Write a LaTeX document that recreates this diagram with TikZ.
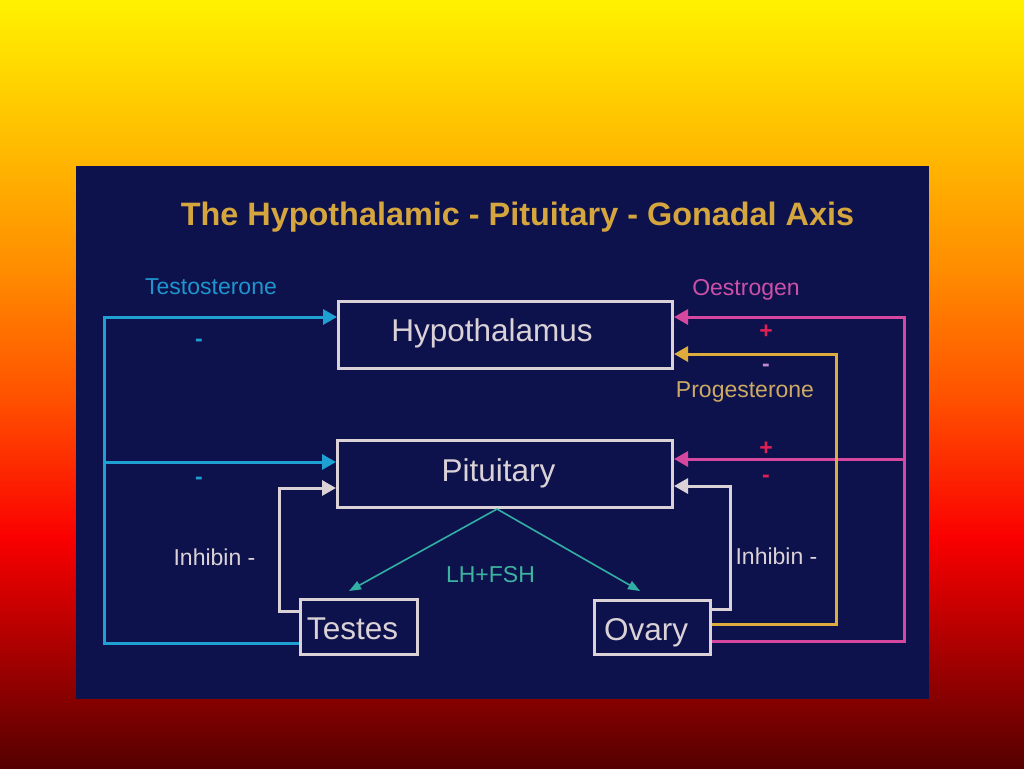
\documentclass[tikz,border=0pt]{standalone}
\usepackage{fontspec}
\setmainfont{Liberation Sans}
\usetikzlibrary{arrows.meta}
\definecolor{bgE}{RGB}{255,242,0}
\definecolor{bgD}{RGB}{255,140,0}
\definecolor{bgC}{RGB}{255,80,0}
\definecolor{bgB}{RGB}{250,0,0}
\definecolor{bgA}{RGB}{85,0,0}
\definecolor{panel}{RGB}{14,18,76}
\definecolor{titlegold}{RGB}{214,166,62}
\definecolor{boxgrey}{RGB}{218,210,214}
\definecolor{cyanc}{RGB}{30,160,210}
\definecolor{cyantext}{RGB}{30,150,205}
\definecolor{pinkc}{RGB}{214,72,160}
\definecolor{pinktext}{RGB}{205,80,168}
\definecolor{goldc}{RGB}{222,172,60}
\definecolor{progtext}{RGB}{205,170,100}
\definecolor{redsign}{RGB}{222,32,84}
\definecolor{lavsign}{RGB}{190,140,205}
\definecolor{tealc}{RGB}{50,175,165}
\definecolor{tealtext}{RGB}{60,180,160}
\begin{document}
\begin{tikzpicture}[x=1pt,y=-1pt,
  box/.style={draw=boxgrey, line width=3pt, inner sep=0pt},
  boxtext/.style={font=\fontsize{31.5}{36}\selectfont, text=boxgrey, inner sep=0pt, anchor=base},
  titletext/.style={font=\fontsize{32.4}{38}\selectfont\bfseries, text=titlegold, inner sep=0pt, anchor=base},
  small/.style={font=\fontsize{23}{27}\selectfont, inner sep=0pt, anchor=base},
  sign/.style={font=\fontsize{23}{27}\selectfont\bfseries, inner sep=0pt, anchor=base},
  fbline/.style={line width=3pt, -{Triangle[length=14pt,width=15pt]}},
  tealline/.style={draw=tealc, line width=1.6pt, -{Triangle[length=12pt,width=9pt]}}
]
\useasboundingbox (0,0) rectangle (1024,768);
% background gradient
\shade[top color=bgE, bottom color=bgD] (0,0) rectangle (1024,270.5);
\shade[top color=bgD, bottom color=bgC] (0,270) rectangle (1024,400.5);
\shade[top color=bgC, bottom color=bgB] (0,400) rectangle (1024,537.5);
\shade[top color=bgB, bottom color=bgA] (0,537) rectangle (1024,768);
% panel
\fill[panel] (76,166) rectangle (929,699);

% title
\node[titletext] (title) at (517.5,225) {The Hypothalamic - Pituitary - Gonadal Axis};

% boxes
\node[box, minimum width=334pt, minimum height=67pt] (hyp) at (505.5,335) {};
\node[box, minimum width=335pt, minimum height=67pt] (pit) at (505,474) {};
\node[box, minimum width=117pt, minimum height=55pt] (tes) at (359,627) {};
\node[box, minimum width=116pt, minimum height=54pt] (ova) at (652.5,627.5) {};
\node[boxtext] (hypt) at (492,341) {Hypothalamus};
\node[boxtext] (pitt) at (498.5,481) {Pituitary};
\node[boxtext] (test) at (352.5,639) {Testes};
\node[boxtext] (ovat) at (646,640) {Ovary};

% corner coordinates
\coordinate (cT) at (104,317);
\coordinate (cM) at (104,462);
\coordinate (cB) at (104,643);
\coordinate (pT) at (904,317);
\coordinate (pM) at (904,459);
\coordinate (pB) at (904,641);
\coordinate (gT) at (836,354);
\coordinate (gB) at (836,624);
\coordinate (iL1) at (279,611);
\coordinate (iL2) at (279,488);
\coordinate (iR1) at (730,609);
\coordinate (iR2) at (730,486);
\coordinate (lhT) at (349,591);
\coordinate (lhO) at (640,591);

% testosterone feedback
\draw[fbline, draw=cyanc] (tes.west |- cB) -- (cB) -- (cT) -- (hyp.west |- cT);
\draw[fbline, draw=cyanc] (cM) -- (pit.west |- cM);
% oestrogen feedback
\draw[fbline, draw=pinkc] (ova.east |- pB) -- (pB) -- (pT) -- (hyp.east |- pT);
\draw[fbline, draw=pinkc] (pM) -- (pit.east |- pM);
% progesterone feedback
\draw[fbline, draw=goldc] (ova.east |- gB) -- (gB) -- (gT) -- (hyp.east |- gT);
% inhibin
\draw[fbline, draw=boxgrey] (tes.west |- iL1) -- (iL1) -- (iL2) -- (pit.west |- iL2);
\draw[fbline, draw=boxgrey] (ova.east |- iR1) -- (iR1) -- (iR2) -- (pit.east |- iR2);
% LH+FSH
\draw[tealline] ([xshift=-8pt]pit.south) -- (lhT);
\draw[tealline] ([xshift=-8pt]pit.south) -- (lhO);

% labels
\node[small, text=cyantext] (testo) at (211,294) {Testosterone};
\node[small, text=pinktext] (oestro) at (746,295) {Oestrogen};
\node[small, text=progtext] (proge) at (745,397) {Progesterone};
\node[small, text=boxgrey] (inhL) at (214.5,565) {Inhibin -};
\node[small, text=boxgrey] (inhR) at (776.5,564) {Inhibin -};
\node[small, text=tealtext] (lhfsh) at (490.5,582) {LH+FSH};
\node[sign, text=cyanc] (cm1) at (199,346) {-};
\node[sign, text=cyanc] (cm2) at (199,484) {-};
\node[sign, text=redsign] (rp1) at (766,338) {+};
\node[sign, text=lavsign] (lm1) at (766,371) {-};
\node[sign, text=redsign] (rp2) at (766,455) {+};
\node[sign, text=redsign] (rm2) at (766,482) {-};
\end{tikzpicture}
\end{document}
